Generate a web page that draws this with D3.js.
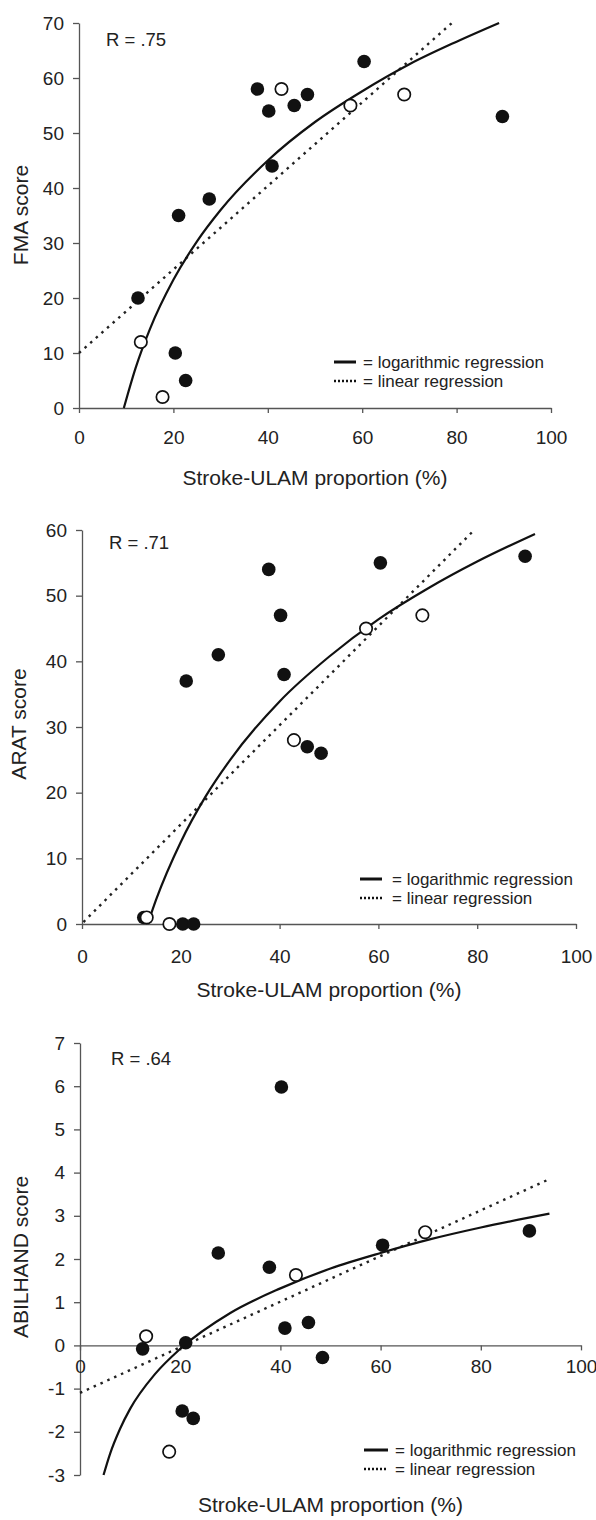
<!DOCTYPE html>
<html>
<head>
<meta charset="utf-8">
<script src="https://cdn.jsdelivr.net/npm/d3@7"></script>
<style>
  body { margin: 0; background: #fff; }
  text { font-family: "Liberation Sans", Arial, sans-serif; fill: #222; }
</style>
</head>
<body>
<svg id="chart" width="596" height="1520"></svg>
<script>
// Stroke-ULAM proportion (%) for each patient
const filledX = [12.5, 20.4, 21.1, 22.6, 27.6, 37.8, 40.2, 40.9, 45.6, 48.4, 60.4, 89.7];
const openX = [13.1, 17.7, 42.9, 57.5, 68.9];
const abilOpenX = [13.2, 17.8, 43.1, 68.9];

// scores
const fmaFilled = [20, 10, 35, 5, 38, 58, 54, 44, 55, 57, 63, 53];
const fmaOpen = [12, 2, 58, 55, 57];
const aratFilled = [1, 0, 37, 0, 41, 54, 47, 38, 27, 26, 55, 56];
const aratOpen = [1, 0, 28, 45, 47];
const abilFilled = [-0.08, -1.52, 0.06, -1.69, 2.14, 1.81, 5.98, 0.4, 0.53, -0.28, 2.32, 2.65];
const abilOpen = [0.21, -2.46, 1.63, 2.62];

// regression lines
const fmaLogX = [9.5, 12, 15, 20, 25, 30, 40, 50, 60, 70, 80, 89];
const fmaLogY = [0, 7.3, 14.3, 23.3, 30.3, 36, 45, 52, 57.6, 62.5, 66.6, 70];
const fmaLinX = [0, 79];
const fmaLinY = [10, 70];

const aratLogX = [13.3, 15, 20, 25, 30, 40, 50, 60, 70, 80, 91.7];
const aratLogY = [0, 3.7, 12.5, 19.4, 25, 33.9, 40.7, 46.4, 51.1, 55.2, 59.4];
const aratLinX = [0.3, 79.4];
const aratLinY = [0.3, 60];

const abilLogX = [4.7, 6, 8, 10, 15, 20, 30, 40, 50, 60, 70, 80, 93.7];
const abilLogY = [-3, -2.51, -1.93, -1.47, -0.66, -0.08, 0.75, 1.32, 1.78, 2.14, 2.46, 2.73, 3.05];
const abilLinX = [0, 93.7];
const abilLinY = [-1.1, 3.85];

const xTicks = [0, 20, 40, 60, 80, 100];
const fmaTicks = [0, 10, 20, 30, 40, 50, 60, 70];
const aratTicks = [0, 10, 20, 30, 40, 50, 60];
const abilTicks = [-3, -2, -1, 0, 1, 2, 3, 4, 5, 6, 7];

const rLabels = ['R = .75', 'R = .71', 'R = .64'];
const yTitles = ['FMA score', 'ARAT score', 'ABILHAND score'];
const xTitle = 'Stroke-ULAM proportion (%)';

const zip = (xs, ys) => xs.map((x, i) => ({ x, y: ys[i] }));

const panels = [
    {
        filled: zip(filledX, fmaFilled), open: zip(openX, fmaOpen),
        log: zip(fmaLogX, fmaLogY), lin: zip(fmaLinX, fmaLinY),
        yDomain: [0, 70], yTicks: fmaTicks,
        xRange: [79, 551], yRange: [408, 23], xLabelDy: 29,
        rPos: [106, 40], yTitlePos: [21, 215], xTitleY: 478,
        legend: { x1: 334, x2: 356, tx: 363, y1: 362, y2: 381 }
    },
    {
        filled: zip(filledX, aratFilled), open: zip(openX, aratOpen),
        log: zip(aratLogX, aratLogY), lin: zip(aratLinX, aratLinY),
        yDomain: [0, 60], yTicks: aratTicks,
        xRange: [82, 576], yRange: [924, 530], xLabelDy: 32,
        rPos: [109, 543], yTitlePos: [19, 724], xTitleY: 990,
        legend: { x1: 360, x2: 382, tx: 392, y1: 879, y2: 898 }
    },
    {
        filled: zip(filledX, abilFilled), open: zip(abilOpenX, abilOpen),
        log: zip(abilLogX, abilLogY), lin: zip(abilLinX, abilLinY),
        yDomain: [-3, 7], yTicks: abilTicks,
        xRange: [80, 581], yRange: [1475, 1043], xLabelDy: 21,
        rPos: [111, 1059], yTitlePos: [21, 1257], xTitleY: 1505,
        legend: { x1: 364, x2: 388, tx: 395, y1: 1450, y2: 1469 }
    }
];

const svg = d3.select('#chart');

panels.forEach((p, i) => {
    const x = d3.scaleLinear().domain([0, 100]).range(p.xRange);
    const y = d3.scaleLinear().domain(p.yDomain).range(p.yRange);
    const g = svg.append('g');

    // y axis
    const yAxis = g.append('g')
        .attr('transform', `translate(${p.xRange[0]},0)`)
        .call(d3.axisLeft(y).tickValues(p.yTicks).tickFormat(d => String(d)).tickSize(6).tickSizeOuter(0).tickPadding(9));
    // x axis on the zero line
    const xAxis = g.append('g')
        .attr('transform', `translate(0,${y(0)})`)
        .call(d3.axisBottom(x).tickValues(xTicks).tickFormat(d => String(d)).tickSize(5).tickSizeOuter(0));

    [yAxis, xAxis].forEach(a => {
        a.select('.domain').attr('stroke', '#555').attr('stroke-width', 1.3);
        a.selectAll('.tick line').attr('stroke', '#555').attr('stroke-width', 1.3);
        a.selectAll('text').style('font-size', '19px').attr('fill', '#222');
    });
    xAxis.selectAll('text').attr('y', p.xLabelDy).attr('dy', '0.35em');

    // regression lines
    const line = d3.line().x(d => x(d.x)).y(d => y(d.y)).curve(d3.curveMonotoneX);
    g.append('path').datum(p.lin)
        .attr('d', line)
        .attr('fill', 'none').attr('stroke', '#222').attr('stroke-width', 2.4)
        .attr('stroke-dasharray', '2.5,5');
    g.append('path').datum(p.log)
        .attr('d', line)
        .attr('fill', 'none').attr('stroke', '#111').attr('stroke-width', 2.2);

    // points
    g.append('g').selectAll('circle').data(p.filled).enter()
        .append('circle')
        .attr('cx', d => x(d.x)).attr('cy', d => y(d.y)).attr('r', 6.8)
        .attr('fill', '#111');
    g.append('g').selectAll('circle').data(p.open).enter()
        .append('circle')
        .attr('cx', d => x(d.x)).attr('cy', d => y(d.y)).attr('r', 6.2)
        .attr('fill', '#fff').attr('stroke', '#111').attr('stroke-width', 1.7);

    // correlation label
    g.append('text')
        .attr('x', p.rPos[0]).attr('y', p.rPos[1]).attr('dy', '0.35em')
        .style('font-size', '18.5px')
        .text(rLabels[i]);

    // legend
    const lg = p.legend;
    g.append('line').attr('x1', lg.x1).attr('x2', lg.x2).attr('y1', lg.y1).attr('y2', lg.y1)
        .attr('stroke', '#111').attr('stroke-width', 3);
    g.append('line').attr('x1', lg.x1).attr('x2', lg.x2).attr('y1', lg.y2).attr('y2', lg.y2)
        .attr('stroke', '#111').attr('stroke-width', 2.4).attr('stroke-dasharray', '2,2');
    g.append('text').attr('x', lg.tx).attr('y', lg.y1).attr('dy', '0.35em')
        .style('font-size', '17px').text('= logarithmic regression');
    g.append('text').attr('x', lg.tx).attr('y', lg.y2).attr('dy', '0.35em')
        .style('font-size', '17px').text('= linear regression');

    // axis titles
    g.append('text')
        .attr('transform', `translate(${p.yTitlePos[0]},${p.yTitlePos[1]}) rotate(-90)`)
        .attr('text-anchor', 'middle').attr('dy', '0.35em')
        .style('font-size', '21px')
        .text(yTitles[i]);
    g.append('text')
        .attr('x', (p.xRange[0] + p.xRange[1]) / 2).attr('y', p.xTitleY).attr('dy', '0.35em')
        .attr('text-anchor', 'middle')
        .style('font-size', '21px')
        .text(xTitle);
});
</script>
</body>
</html>
